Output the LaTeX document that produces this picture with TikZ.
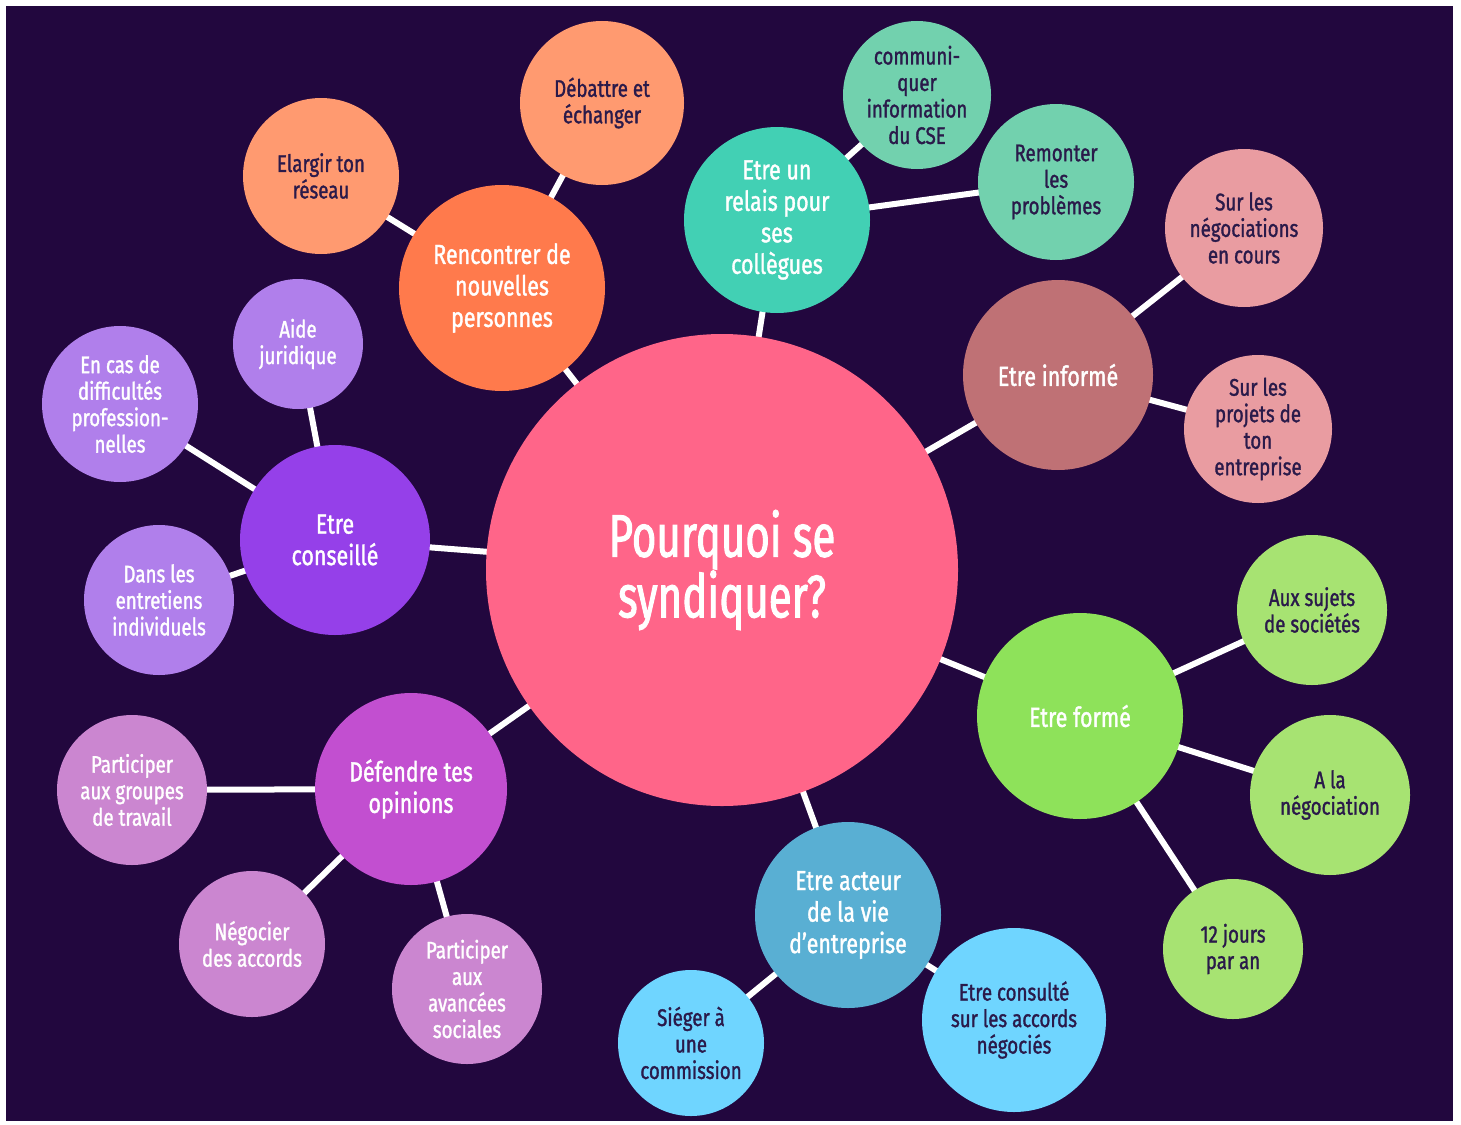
\documentclass[tikz,border=0pt]{standalone}
\usepackage{fontspec}
\setmainfont{Fira Sans}[FakeStretch=0.78, FakeBold=1.3]
\newfontfamily\centrefont{Fira Sans}[FakeStretch=0.70, FakeBold=1.6]
\pgfdeclarelayer{back}
\pgfdeclarelayer{links}
\pgfsetlayers{back,links,main}
\definecolor{bgc}{HTML}{22073E}
\definecolor{txtdark}{HTML}{2A1A4A}
\definecolor{cPink}{HTML}{FF6589}
\definecolor{cOrange}{HTML}{FF7A4C}
\definecolor{cOrangeL}{HTML}{FF9A70}
\definecolor{cTeal}{HTML}{42D0B4}
\definecolor{cTealL}{HTML}{72D1AE}
\definecolor{cRose}{HTML}{BF7175}
\definecolor{cRoseL}{HTML}{E99CA1}
\definecolor{cGreen}{HTML}{8EE25A}
\definecolor{cGreenL}{HTML}{A7E372}
\definecolor{cBlue}{HTML}{59AFD3}
\definecolor{cBlueL}{HTML}{6FD5FF}
\definecolor{cMag}{HTML}{C24FD0}
\definecolor{cMagL}{HTML}{CB86D0}
\definecolor{cPurp}{HTML}{9540E9}
\definecolor{cPurpL}{HTML}{B07FEB}
\tikzset{
  bub/.style={circle, inner sep=0pt, align=center, text=white, font=\fontsize{24}{26.5}\selectfont},
  midtxt/.style={font=\fontsize{27.5}{31.5}\selectfont},
  dk/.style={text=txtdark},
  link/.style={draw=white, line width=6pt}
}
\begin{document}
\begin{tikzpicture}[x=1pt,y=-1pt]
\useasboundingbox (0,0) rectangle (1461,1124);
\begin{pgfonlayer}{back}
\fill[white] (0,0) rectangle (1461,1124);
\fill[bgc] (6,6) rectangle (1453,1121);
\end{pgfonlayer}
% centre
\node[bub, fill=cPink, minimum size=472pt, font=\centrefont\fontsize{60}{56}\selectfont] (c) at (722,570) {Pourquoi se\\syndiquer?};
% Rencontrer
\node[bub, midtxt, fill=cOrange, minimum size=206pt] (ren) at (502,288) {Rencontrer de\\nouvelles\\personnes};
\node[bub, dk, fill=cOrangeL, minimum size=156pt] (ela) at (321,176) {Elargir ton\\réseau};
\node[bub, dk, fill=cOrangeL, minimum size=164pt] (deb) at (602,103) {Débattre et\\échanger};
% relais
\node[bub, midtxt, fill=cTeal, minimum size=186pt] (rel) at (777,220) {Etre un\\relais pour\\ses\\collègues};
\node[bub, dk, fill=cTealL, minimum size=148pt] (com) at (917,95) {communi-\\quer\\information\\du CSE};
\node[bub, dk, fill=cTealL, minimum size=156pt] (rem) at (1056,182) {Remonter\\les\\problèmes};
% informé
\node[bub, midtxt, fill=cRose, minimum size=190pt] (inf) at (1058,375) {Etre informé};
\node[bub, dk, fill=cRoseL, minimum size=158pt] (neg) at (1244,228) {Sur les\\négociations\\en cours};
\node[bub, dk, fill=cRoseL, minimum size=148pt] (pro) at (1258,429) {Sur les\\projets de\\ton\\entreprise};
% formé
\node[bub, midtxt, fill=cGreen, minimum size=206pt] (for) at (1080,716) {Etre formé};
\node[bub, dk, fill=cGreenL, minimum size=150pt] (suj) at (1312,610) {Aux sujets\\de sociétés};
\node[bub, dk, fill=cGreenL, minimum size=160pt] (ala) at (1330,795) {A la\\négociation};
\node[bub, dk, fill=cGreenL, minimum size=140pt] (jou) at (1233,949) {12 jours\\par an};
% acteur
\node[bub, midtxt, fill=cBlue, minimum size=186pt] (act) at (848,915) {Etre acteur\\de la vie\\d'entreprise};
\node[bub, dk, fill=cBlueL, minimum size=184pt] (cons) at (1014,1020) {Etre consulté\\sur les accords\\négociés};
\node[bub, dk, fill=cBlueL, minimum size=146pt] (sie) at (691,1043) {Siéger à\\une\\commission};
% défendre
\node[bub, midtxt, fill=cMag, minimum size=192pt] (def) at (411,789) {Défendre tes\\opinions};
\node[bub, fill=cMagL, minimum size=150pt] (grp) at (132,790) {Participer\\aux groupes\\de travail};
\node[bub, fill=cMagL, minimum size=146pt] (nac) at (252,944) {Négocier\\des accords};
\node[bub, fill=cMagL, minimum size=150pt] (ava) at (467,989) {Participer\\aux\\avancées\\sociales};
% conseillé
\node[bub, midtxt, fill=cPurp, minimum size=190pt] (cse) at (335,540) {Etre\\conseillé};
\node[bub, fill=cPurpL, minimum size=130pt] (aid) at (298,344) {Aide\\juridique};
\node[bub, fill=cPurpL, minimum size=156pt] (enc) at (120,404) {En cas de\\difficultés\\profession-\\nelles};
\node[bub, fill=cPurpL, minimum size=150pt] (dan) at (159,600) {Dans les\\entretiens\\individuels};
\begin{pgfonlayer}{links}
\draw[link] (c.center) -- (ren.center);
\draw[link] (c.center) -- (rel.center);
\draw[link] (c.center) -- (inf.center);
\draw[link] (c.center) -- (for.center);
\draw[link] (c.center) -- (act.center);
\draw[link] (c.center) -- (def.center);
\draw[link] (c.center) -- (cse.center);
\draw[link] (ren.center) -- (ela.center);
\draw[link] (ren.center) -- (deb.center);
\draw[link] (rel.center) -- (com.center);
\draw[link] (rel.center) -- (rem.center);
\draw[link] (inf.center) -- (neg.center);
\draw[link] (inf.center) -- (pro.center);
\draw[link] (for.center) -- (suj.center);
\draw[link] (for.center) -- (ala.center);
\draw[link] (for.center) -- (jou.center);
\draw[link] (act.center) -- (cons.center);
\draw[link] (act.center) -- (sie.center);
\draw[link] (def.center) -- (grp.center);
\draw[link] (def.center) -- (nac.center);
\draw[link] (def.center) -- (ava.center);
\draw[link] (cse.center) -- (aid.center);
\draw[link] (cse.center) -- (enc.center);
\draw[link] (cse.center) -- (dan.center);
\end{pgfonlayer}
\end{tikzpicture}
\end{document}
